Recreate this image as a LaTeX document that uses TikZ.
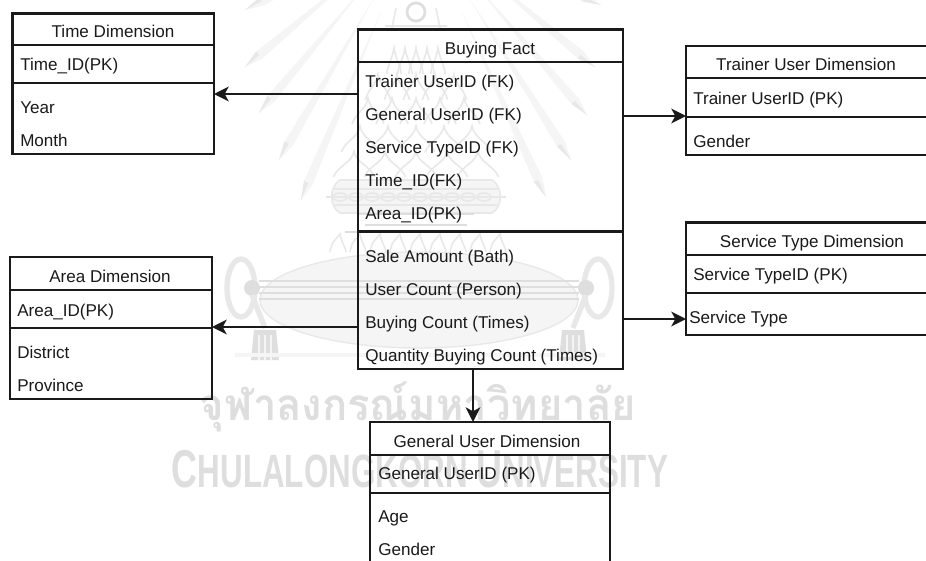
\documentclass[tikz,border=0pt]{standalone}
\usepackage{fontspec}
\usepackage{graphicx}
\setmainfont{Liberation Sans}
\newfontfamily\thaifont[Script=Thai]{Loma}
\usetikzlibrary{arrows.meta,fit,calc}
\definecolor{ink}{HTML}{1A1A1A}
\definecolor{wmA}{HTML}{F5F5F5}
\definecolor{wmB}{HTML}{E8E8E8}
\definecolor{wmC}{HTML}{DEDEDE}
\tikzset{
  ebox/.style={draw=ink,line width=1.7pt,inner sep=0pt,outer sep=0pt},
  rule/.style={draw=ink,line width=1.7pt},
  link/.style={draw=ink,line width=1.7pt,-{Stealth[length=11pt,width=11pt,inset=3pt]}},
  rowtext/.style={anchor=base west,inner sep=0pt,text=ink,font=\fontsize{12.8pt}{14pt}\selectfont},
  titletext/.style={anchor=base,inner sep=0pt,text=ink,font=\fontsize{12.8pt}{14pt}\selectfont},
  wmline/.style={draw=wmB,line width=1.2pt},
  wmsoft/.style={draw=wmC,line width=1.3pt},
  wmmark/.style={anchor=base,inner sep=0pt,text=wmC},
}
\begin{document}
\begin{tikzpicture}[x=0.75pt,y=-0.75pt]
\useasboundingbox (0,0) rectangle (926,561);
\clip (0,0) rectangle (926,561);
\fill[white] (0,0) rectangle (926,561);

% ---------- watermark crest ----------
\coordinate (O) at (420,-80);
\foreach \tx/\ty in {245/10,245/67,259/113,279/160,301/200,601/5,587/115,595/67,571/160,546/197}{
  \coordinate (T) at (\tx,\ty);
  \coordinate (S) at ($(T)!14pt!(O)$);
  \fill[wmA] (T) -- ($(S)!3.5pt!90:(O)$) -- ($(O)!0.35!(S)$) -- ($(S)!3.5pt!-90:(O)$) -- cycle;
  \fill[wmB] (T) -- ($(S)!3.5pt!90:(O)$) -- (S) -- cycle;
}
% crown
\draw[wmC,line width=2pt] (416,12) circle[radius=9];
\draw[wmline] (392,28) -- (396,8) (440,28) -- (436,8) (385,26) -- (447,26);
\foreach \yy/\hw in {62/22,88/38,112/48,140/56,165/62}{
  \foreach \dx in {-1,-0.5,0,0.5,1}{
    \draw[wmline] ({416+\dx*\hw-\hw/3},\yy+12) .. controls ({416+\dx*\hw-\hw/4},\yy) and ({416+\dx*\hw-2},\yy-2) .. ({416+\dx*\hw},\yy-14)
                  .. controls ({416+\dx*\hw+2},\yy-2) and ({416+\dx*\hw+\hw/4},\yy) .. ({416+\dx*\hw+\hw/3},\yy+12);
  }
}
% bowl on the crown
\fill[wmA] (340,180) -- (492,180) to[out=-30,in=30] (492,213) -- (340,213) to[out=150,in=210] (340,180) -- cycle;
\draw[wmline] (340,180) -- (492,180) to[out=-30,in=30] (492,213) -- (340,213) to[out=150,in=210] (340,180) -- cycle;
\draw[wmline] (326,197) -- (506,197) (334,189) -- (498,189) (334,205) -- (498,205);
\foreach \xx in {340,356,...,492}{\draw[wmline] (\xx,197) ellipse[x radius=7,y radius=4];}
% stand
\draw[wmsoft] (358,214) -- (474,214) (365,225) -- (467,225) (345,232) -- (487,232);
\foreach \xx in {330,350,...,490}{\draw[wmline] (\xx,252) .. controls (\xx+2,240) and (\xx+6,240) .. (\xx+10,234) .. controls (\xx+12,244) and (\xx+16,248) .. (\xx+16,252);}
% tray
\fill[wmA] (419,300) ellipse[x radius=159,y radius=48];
\draw[wmB,line width=1pt] (419,300) ellipse[x radius=159,y radius=48];
\foreach \yy in {281,287,293,299}{\draw[wmC,line width=1.3pt] (259,\yy) -- (579,\yy);}
% knots and tassels
\foreach \cx/\ball/\tasx in {241/252/265,598/586/573}{
  \draw[wmB,line width=4pt] (\cx,288) ellipse[x radius=14,y radius=29];
  \fill[wmC] (\ball,288) circle[radius=8];
  \draw[wmB,line width=4pt] (\ball,295) -- (\tasx,328);
  \fill[wmC] (\tasx-14,360) -- (\tasx-11,330) -- (\tasx+11,330) -- (\tasx+14,360) -- cycle;
  \foreach \dx in {-6,0,6}{\draw[wmA,line width=1pt] (\tasx+\dx,335) -- (\tasx+\dx,360);}
}
\draw[wmA,line width=3pt] (235,355) -- (605,355);
% watermark lettering
\node[wmmark] (wmthai) at (418,420) {\resizebox{327pt}{\height}{\thaifont\bfseries\fontsize{33pt}{36pt}\selectfont จุฬาลงกรณ์มหาวิทยาลัย}};
\node[wmmark] (wmeng) at (420,487) {\resizebox{372pt}{\height}{\bfseries{\fontsize{40pt}{42pt}\selectfont C}{\fontsize{35pt}{42pt}\selectfont HULALONGKORN }{\fontsize{40pt}{42pt}\selectfont U}{\fontsize{35pt}{42pt}\selectfont NIVERSITY}}};

% ---------- boxes ----------
\node[ebox,fit={(12.5,13.5)(214,154)}] (time) {};
\node[ebox,fit={(358,29.5)(623,369)}] (fact) {};
\node[ebox,fit={(686,46)(935,155)}] (trainer) {};
\node[ebox,fit={(686,222.5)(935,335)}] (service) {};
\node[ebox,fit={(10,257)(212,399)}] (area) {};
\node[ebox,fit={(370,422)(610,575)}] (general) {};

\draw[rule] (time.west |- 0,45) -- (time.east |- 0,45);
\draw[rule] (time.west |- 0,83) -- (time.east |- 0,83);
\draw[rule] (fact.west |- 0,62) -- (fact.east |- 0,62);
\draw[rule] (fact.west |- 0,231.5) -- (fact.east |- 0,231.5);
\draw[rule] (trainer.west |- 0,78) -- (trainer.east |- 0,78);
\draw[rule] (trainer.west |- 0,117) -- (trainer.east |- 0,117);
\draw[rule] (service.west |- 0,255) -- (service.east |- 0,255);
\draw[rule] (service.west |- 0,293) -- (service.east |- 0,293);
\draw[rule] (area.west |- 0,290) -- (area.east |- 0,290);
\draw[rule] (area.west |- 0,328) -- (area.east |- 0,328);
\draw[rule] (general.west |- 0,455) -- (general.east |- 0,455);
\draw[rule] (general.west |- 0,493) -- (general.east |- 0,493);

% ---------- texts ----------
\node[titletext] (t0) at (113,37) {Time Dimension};
\node[rowtext] (t1) at (20,70.5) {Time\_ID(PK)};
\node[rowtext] (t2) at (20,113) {Year};
\node[rowtext] (t3) at (20,146.5) {Month};

\node[titletext] (f0) at (490,54) {Buying Fact};
\node[rowtext] (f1) at (365,87) {Trainer UserID (FK)};
\node[rowtext] (f2) at (365,120) {General UserID (FK)};
\node[rowtext] (f3) at (365,153) {Service TypeID (FK)};
\node[rowtext] (f4) at (365,186) {Time\_ID(FK)};
\node[rowtext] (f5) at (365,219) {Area\_ID(PK)};
\node[rowtext] (f6) at (365,262) {Sale Amount (Bath)};
\node[rowtext] (f7) at (365,295) {User Count (Person)};
\node[rowtext] (f8) at (365,328) {Buying Count (Times)};
\node[rowtext] (f9) at (365,361) {Quantity Buying Count (Times)};

\node[titletext] (r0) at (806,70.5) {Trainer User Dimension};
\node[rowtext] (r1) at (693,104) {Trainer UserID (PK)};
\node[rowtext] (r2) at (693,147) {Gender};

\node[titletext] (s0) at (812,247) {Service Type Dimension};
\node[rowtext] (s1) at (693,280) {Service TypeID (PK)};
\node[rowtext] (s2) at (689,323) {Service Type};

\node[titletext] (a0) at (110,282) {Area Dimension};
\node[rowtext] (a1) at (17,316) {Area\_ID(PK)};
\node[rowtext] (a2) at (17,358) {District};
\node[rowtext] (a3) at (17,391) {Province};

\node[titletext] (g0) at (487,447) {General User Dimension};
\node[rowtext] (g1) at (378,479.5) {General UserID (PK)};
\node[rowtext] (g2) at (378,522.5) {Age};
\node[rowtext] (g3) at (378,555.5) {Gender};

% ---------- connectors ----------
\coordinate (yA) at (0,94);
\coordinate (yB) at (0,116);
\coordinate (yC) at (0,327);
\coordinate (yD) at (0,319);
\coordinate (xE) at (473,0);
\draw[link] (fact.west |- yA) -- (time.east |- yA);
\draw[link] (fact.east |- yB) -- (trainer.west |- yB);
\draw[link] (fact.west |- yC) -- (area.east |- yC);
\draw[link] (fact.east |- yD) -- (service.west |- yD);
\draw[link] (fact.south -| xE) -- (general.north -| xE);
\end{tikzpicture}
\end{document}
